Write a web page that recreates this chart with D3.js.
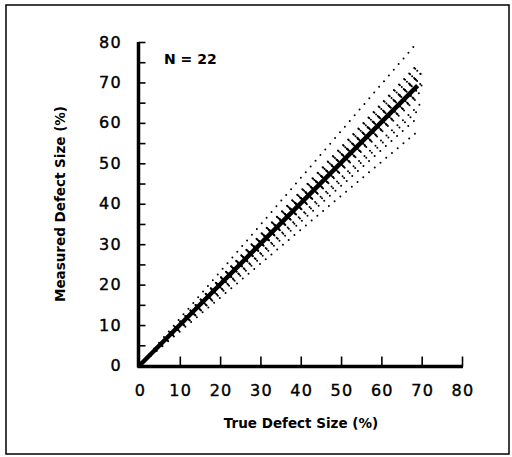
<!DOCTYPE html>
<html><head><meta charset="utf-8">
<script src="https://cdn.jsdelivr.net/npm/d3@7"></script>
<style>body{margin:0;background:#fff}svg{display:block}</style>
</head><body>
<svg id="c" width="512" height="457"></svg>
<script>
// Each trial: [true size at end, measured size at end] (lines start at origin)
const trialEnds = [
  [69,80],[69,74.5],[69,74],[71,73.4],[69,73],[70,72.5],[69,72],[69,71.5],
  [71,70.3],[69,71],[69,70.5],[70,70],[69,69.5],[69,68.5],[70,68],[69,67.5],
  [69,67],[69,66.3],[70,65],[69,63],[69,61.3],[69,57.9]
];
const meanLine = [[0,0],[69,69.2]];
const xTicks = [0,10,20,30,40,50,60,70,80];
const yTicks = [0,10,20,30,40,50,60,70,80];
const yMinor = [5,15,25,35,45,55,65,75];
const nLabel = "N = 22";

const svg = d3.select("#c");
const x = d3.scaleLinear().domain([0,80]).range([139.5,462]);
const y = d3.scaleLinear().domain([0,80]).range([365.5,42]);
const line = d3.line().x(d=>x(d[0])).y(d=>y(d[1]));

svg.append("rect").attr("x",6).attr("y",5).attr("width",503).attr("height",449)
  .attr("fill","none").attr("stroke","#000").attr("stroke-width",1.5);

const g = svg.append("g");
trialEnds.forEach(e=>{
  g.append("path").datum([[0,0],e]).attr("d",line)
    .attr("fill","none").attr("stroke","#000").attr("stroke-width",2)
    .attr("stroke-linecap","round").attr("stroke-dasharray","0 7.5");
});
g.append("path").datum(meanLine).attr("d",line)
  .attr("fill","none").attr("stroke","#000").attr("stroke-width",4.5);

// axes
const font = "DejaVu Sans, sans-serif";
const yAx = svg.append("g").attr("transform",`translate(${x(0)-1},0)`)
  .call(d3.axisRight(y).tickValues(yTicks.concat(yMinor)).tickSize(7).tickFormat(""));
yAx.select(".domain").attr("stroke-width",3.5).attr("d",`M0,${y(80)}V${y(0)+2}`);
yAx.selectAll(".tick line").attr("stroke-width",1.6);

const xAx = svg.append("g").attr("transform",`translate(0,${y(0)+1})`)
  .call(d3.axisTop(x).tickValues(xTicks.slice(1)).tickSize(10).tickFormat(""));
xAx.select(".domain").attr("stroke-width",3.5).attr("d",`M${x(0)-2},0H${x(80)+1}`);
xAx.selectAll(".tick line").attr("stroke-width",1.6);

svg.append("g").selectAll("text").data(yTicks).join("text")
  .attr("x",122).attr("y",d=>y(d)+5.5).attr("text-anchor","end")
  .attr("font-family",font).attr("font-size",16).attr("letter-spacing",1.3)
  .attr("stroke","#000").attr("stroke-width",0.4)
  .text(d=>d);
svg.append("g").selectAll("text").data(xTicks).join("text")
  .attr("x",d=>x(d)+1).attr("y",396).attr("text-anchor","middle")
  .attr("font-family",font).attr("font-size",16).attr("letter-spacing",1.3)
  .attr("stroke","#000").attr("stroke-width",0.4)
  .text(d=>d);

svg.append("text").attr("x",301).attr("y",428).attr("text-anchor","middle")
  .attr("font-family",font).attr("font-weight","bold").attr("font-size",13.5)
  .text("True Defect Size (%)");
svg.append("text").attr("transform","translate(65,204) rotate(-90)").attr("text-anchor","middle")
  .attr("font-family",font).attr("font-weight","bold").attr("font-size",13.5)
  .text("Measured Defect Size (%)");
svg.append("text").attr("x",164).attr("y",64)
  .attr("font-family",font).attr("font-weight","bold").attr("font-size",14)
  .text(nLabel);
</script>
</body></html>
